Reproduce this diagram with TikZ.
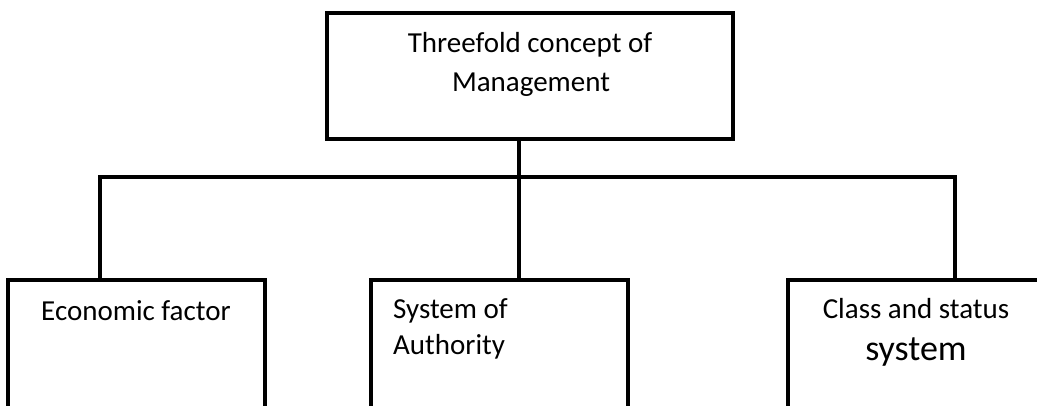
\documentclass[tikz,border=0pt]{standalone}
\usepackage{fontspec}
\setmainfont{Carlito}
\begin{document}
\begin{tikzpicture}[x=1pt,y=-1pt,
  boxstyle/.style={draw=black, line width=4pt, rectangle, inner sep=0pt, line join=miter},
  lnk/.style={draw=black, line width=4pt, line join=miter},
  txt/.style={inner sep=0pt, anchor=base, font=\fontsize{29}{35}\selectfont},
  bigtxt/.style={inner sep=0pt, anchor=base, font=\fontsize{36}{43}\selectfont}]
\useasboundingbox (0,0) rectangle (1037,405);
\fill[white] (0,0) rectangle (1037,405);
\clip (0,0) rectangle (1037,405);
% boxes
\node[boxstyle, minimum width=406pt, minimum height=126pt] (top) at (530,76) {};
\node[boxstyle, minimum width=257pt, minimum height=200pt] (box1) at (136.5,380) {};
\node[boxstyle, minimum width=257pt, minimum height=200pt] (box2) at (499.5,380) {};
\node[boxstyle, minimum width=257pt, minimum height=200pt] (box3) at (916.5,380) {};
% connectors
\coordinate (j) at (519,177);
\coordinate (hl) at (100,177);
\coordinate (hr) at (955,177);
\draw[lnk] (box1.north -| hl) -- (hl) -- (hr) -- (box3.north -| hr);
\draw[lnk] (top.south -| j) -- (box2.north -| j);
% texts
\node[txt] (t1) at (530,52) {Threefold concept of};
\node[txt] (t2) at (531,91) {Management};
\node[txt] (e1) at (136,320) {Economic factor};
\node[txt, anchor=base west] (s1) at (393,318) {System of};
\node[txt, anchor=base west] (s2) at (393,354) {Authority};
\node[txt] (c1) at (916,318) {Class and status};
\node[bigtxt] (c2) at (916,360) {system};
\end{tikzpicture}
\end{document}
